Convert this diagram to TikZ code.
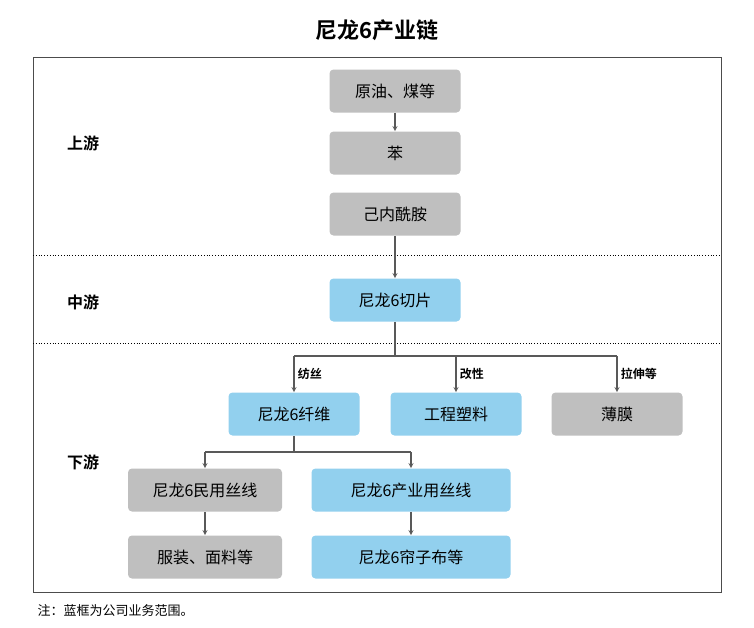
\documentclass[tikz,border=0pt]{standalone}
\usepackage{fontspec}
\setmainfont{Noto Sans CJK SC}
\newfontfamily\cjkbold{Noto Sans CJK SC Bold}
\usetikzlibrary{positioning}
\definecolor{boxgray}{HTML}{BFBFBF}
\definecolor{boxblue}{HTML}{92D0EE}

\begin{document}
\begin{tikzpicture}[x=1pt, y=-1pt, >=stealth, thick,
  gbox/.style={draw=none, rounded corners=4pt, fill=boxgray, minimum width=131pt, minimum height=43pt, font=\fontsize{16}{18}\selectfont},
  bbox/.style={gbox, fill=boxblue},
  stage/.style={font=\cjkbold\fontsize{16}{18}\selectfont},
  how/.style={font=\cjkbold\fontsize{12}{14}\selectfont, right},
  link/.style={draw=black!65, line width=1.2pt}
]
\useasboundingbox (0,0) rectangle (754,627);

% Title and frame
\node[font=\cjkbold\fontsize{22}{24}\selectfont] (title) at (377,30) {尼龙6产业链};
\draw[black!70, line width=0.8pt] (33,57) rectangle (721,592);
\draw[dotted, line width=0.8pt] (33,255) -- (721,255);
\draw[dotted, line width=0.8pt] (33,343) -- (721,343);

% Stage labels
\node[stage] (up) at (83,143) {上游};
\node[stage] (mid) at (83,302) {中游};
\node[stage] (down) at (83,462) {下游};

% Upstream
\node[gbox] (oil) at (395,91) {原油、煤等};
\node[gbox] (benz) at (395,153) {苯};
\node[gbox] (capro) at (395,214) {己内酰胺};

% Midstream
\node[bbox] (chip) at (395,300) {尼龙6切片};

% Downstream
\node[bbox] (fiber) at (294,414) {尼龙6纤维};
\node[bbox] (plastic) at (456,414) {工程塑料};
\node[gbox] (film) at (617,414) {薄膜};
\node[gbox, minimum width=154pt] (civil) at (205,490) {尼龙6民用丝线};
\node[bbox, minimum width=199pt] (indus) at (411,490) {尼龙6产业用丝线};
\node[gbox, minimum width=154pt] (cloth) at (205,557) {服装、面料等};
\node[bbox, minimum width=199pt] (cord) at (411,557) {尼龙6帘子布等};

% Arrows
\draw[link, ->] (oil) -- (benz);
\draw[link, ->] (capro) -- (chip);
\coordinate (split) at (395,356);
\draw[link] (chip) -- (split);
\draw[link] (fiber.north |- split) -- (film.north |- split);
\draw[link, ->] (fiber.north |- split) -- (fiber) node[how, midway] {纺丝};
\draw[link, ->] (plastic.north |- split) -- (plastic) node[how, midway] {改性};
\draw[link, ->] (film.north |- split) -- (film) node[how, midway] {拉伸等};
\coordinate (split2) at (294,452);
\draw[link] (fiber) -- (split2);
\draw[link] (civil.north |- split2) -- (indus.north |- split2);
\draw[link, ->] (civil.north |- split2) -- (civil);
\draw[link, ->] (indus.north |- split2) -- (indus);
\draw[link, ->] (civil) -- (cloth);
\draw[link, ->] (indus) -- (cord);

% Note
\node[right, font=\fontsize{13}{15}\selectfont] (note) at (34,611) {注：蓝框为公司业务范围。};
\end{tikzpicture}
\end{document}
